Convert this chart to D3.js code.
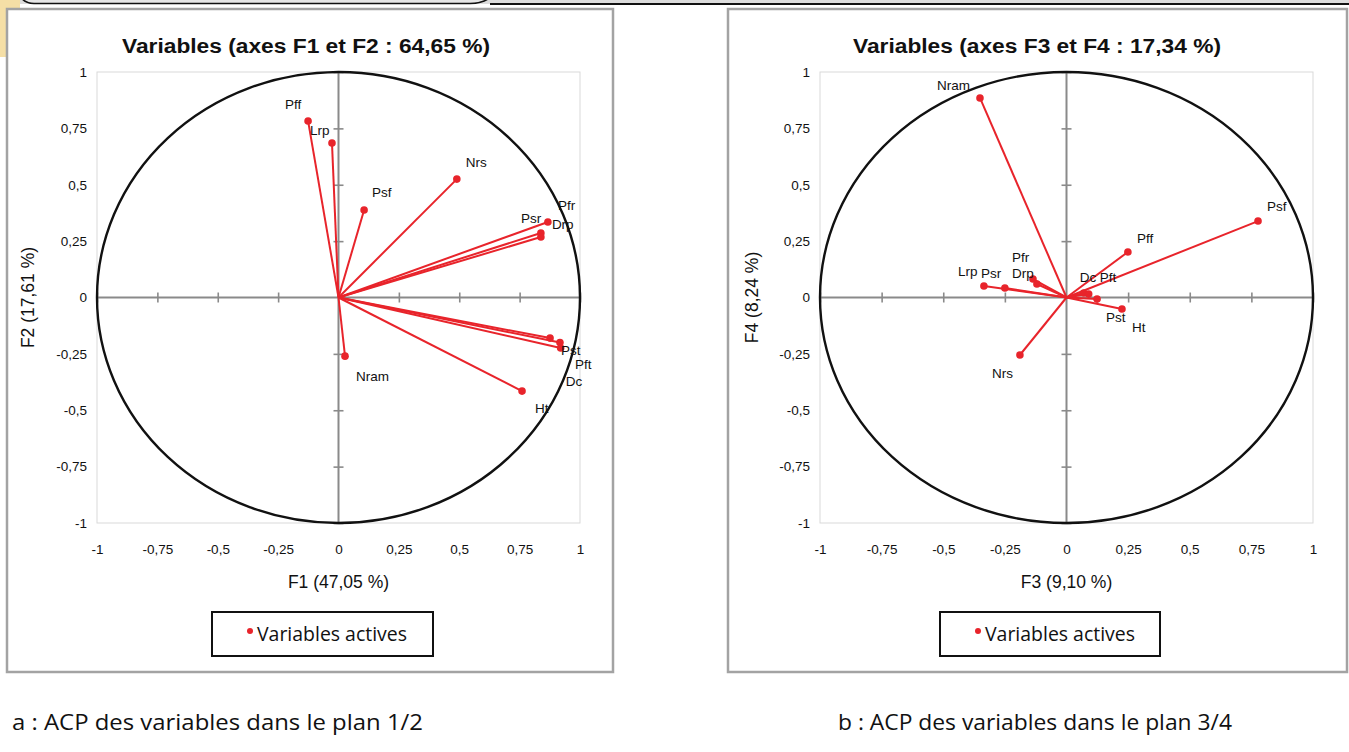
<!DOCTYPE html>
<html>
<head>
<meta charset="utf-8">
<script src="https://cdn.jsdelivr.net/npm/d3@7"></script>
<style>
  html, body { margin: 0; padding: 0; background: #ffffff; }
  svg { display: block; }
</style>
</head>
<body>
<svg id="fig" width="1349" height="752"></svg>
<script>
// Correlation circle coordinates of the active variables on the first four factors
const variables = ["Pff", "Lrp", "Psf", "Nrs", "Pfr", "Psr", "Drp", "Pst", "Dc", "Pft", "Ht", "Nram"];
const f1 = [-0.126, -0.027, 0.106, 0.490, 0.867, 0.838, 0.838, 0.876, 0.920, 0.917, 0.760, 0.027];
const f2 = [0.783, 0.685, 0.388, 0.525, 0.335, 0.286, 0.268, -0.180, -0.224, -0.200, -0.415, -0.260];
const f3 = [0.249, -0.335, 0.777, -0.189, -0.136, -0.250, -0.120, 0.124, 0.070, 0.090, 0.225, -0.351];
const f4 = [0.202, 0.051, 0.339, -0.255, 0.082, 0.042, 0.060, -0.007, 0.020, 0.015, -0.051, 0.885];

const tickValues = [-1, -0.75, -0.5, -0.25, 0, 0.25, 0.5, 0.75, 1];
const titles = ["Variables (axes F1 et F2 : 64,65 %)", "Variables (axes F3 et F4 : 17,34 %)"];
const xTitles = ["F1 (47,05 %)", "F3 (9,10 %)"];
const yTitles = ["F2 (17,61 %)", "F4 (8,24 %)"];
const captions = ["a : ACP des variables dans le plan 1/2", "b : ACP des variables dans le plan 3/4"];
const legendLabel = "Variables actives";

// Label placement nudges (pixels from the marker) to keep crowded labels readable
const nudgeA = {
  Pff: [-23, -12], Lrp: [-22, -8], Psf: [8, -13], Nrs: [9, -12], Pfr: [10, -12], Psr: [-20, -10],
  Drp: [11, -8], Pst: [11, 17], Dc: [5, 38], Pft: [15, 26], Ht: [13, 22], Nram: [11, 25]
};
const nudgeB = {
  Nram: [-43, -8], Psf: [9, -10], Pff: [9, -9], Lrp: [-26, -10], Psr: [-24, -10], Pfr: [-21, -17],
  Drp: [-25, -6], Dc: [-4, -11], Pft: [11, -12], Pst: [9, 23], Ht: [10, 23], Nrs: [-28, 23]
};

const locale = d3.formatLocale({ decimal: ",", thousands: " ", grouping: [3], currency: ["", " €"], minus: "-" });
const fmt = locale.format("~g");

const RED = "#e8242b";
const FONT = "Liberation Sans, Arial, sans-serif";
const svg = d3.select("#fig");

// Header remnants at the top of the page
svg.append("rect").attr("x", 0).attr("y", 0).attr("width", 1349).attr("height", 4).attr("fill", "#dcdcdc");
svg.append("path")
  .attr("d", "M20,-6 Q22,3 34,3.5 L470,3.5 Q488,3 492,-6")
  .attr("fill", "#e6e6e6").attr("stroke", "#111").attr("stroke-width", 1.6);
svg.append("line").attr("x1", 490).attr("x2", 1349).attr("y1", 4).attr("y2", 4)
  .attr("stroke", "#111").attr("stroke-width", 2);
svg.append("path")
  .attr("d", "M0,0 L20,0 L20,45 Q20,57 8,57 L0,57 Z")
  .attr("fill", "#f5dfa6");

const panels = [
  { frame: [7, 9, 606, 663], xs: [97, 580], ys: [72, 523], xv: f1, yv: f2, nudge: nudgeA,
    title: titles[0], titleX: 306, xTitle: xTitles[0], yTitle: yTitles[0], yTitleX: 34,
    legend: [212, 612, 221, 44], caption: captions[0], capX: 12, capW: 411 },
  { frame: [728, 9, 619, 663], xs: [820, 1313], ys: [72, 523], xv: f3, yv: f4, nudge: nudgeB,
    title: titles[1], titleX: 1037, xTitle: xTitles[1], yTitle: yTitles[1], yTitleX: 758,
    legend: [940, 612, 220, 44], caption: captions[1], capX: 838, capW: 394 }
];

panels.forEach(p => {
  const g = svg.append("g");
  const [fx, fy, fw, fh] = p.frame;
  g.append("rect").attr("x", fx).attr("y", fy).attr("width", fw).attr("height", fh)
    .attr("fill", "#fff").attr("stroke", "#a3a3a3").attr("stroke-width", 2.5);

  const x = d3.scaleLinear().domain([-1, 1]).range(p.xs);
  const y = d3.scaleLinear().domain([-1, 1]).range([p.ys[1], p.ys[0]]);

  // plot area border
  g.append("rect").attr("x", p.xs[0]).attr("y", p.ys[0])
    .attr("width", p.xs[1] - p.xs[0]).attr("height", p.ys[1] - p.ys[0])
    .attr("fill", "none").attr("stroke", "#d9d9d9").attr("stroke-width", 1);

  // tick labels along the plot edges
  const yLab = g.append("g").attr("transform", `translate(${p.xs[0] - 4},0)`)
    .call(d3.axisLeft(y).tickValues(tickValues).tickFormat(fmt).tickSize(0).tickPadding(6));
  const xLab = g.append("g").attr("transform", `translate(0,${p.ys[1] + 15})`)
    .call(d3.axisBottom(x).tickValues(tickValues).tickFormat(fmt).tickSize(0).tickPadding(6));
  [yLab, xLab].forEach(a => {
    a.select(".domain").remove();
    a.selectAll("text").attr("font-family", FONT).attr("font-size", 13.5).attr("fill", "#111");
  });

  // axes through the origin with crossing tick marks
  const cx = x(0), cy = y(0);
  const gridTicks = tickValues.filter(v => v !== 0);
  [d3.axisLeft(y), d3.axisRight(y)].forEach(ax => {
    const a = g.append("g").attr("transform", `translate(${cx},0)`)
      .call(ax.tickValues(gridTicks).tickSize(5).tickFormat(""));
    a.select(".domain").remove();
    a.selectAll("line").attr("stroke", "#8a8a8a").attr("stroke-width", 1.6);
  });
  [d3.axisTop(x), d3.axisBottom(x)].forEach(ax => {
    const a = g.append("g").attr("transform", `translate(0,${cy})`)
      .call(ax.tickValues(gridTicks).tickSize(5).tickFormat(""));
    a.select(".domain").remove();
    a.selectAll("line").attr("stroke", "#8a8a8a").attr("stroke-width", 1.6);
  });
  g.append("line").attr("x1", p.xs[0]).attr("x2", p.xs[1]).attr("y1", cy).attr("y2", cy)
    .attr("stroke", "#8a8a8a").attr("stroke-width", 2);
  g.append("line").attr("x1", cx).attr("x2", cx).attr("y1", p.ys[0]).attr("y2", p.ys[1])
    .attr("stroke", "#8a8a8a").attr("stroke-width", 2);

  // unit correlation circle
  g.append("ellipse").attr("cx", cx).attr("cy", cy)
    .attr("rx", x(1) - cx).attr("ry", cy - y(1))
    .attr("fill", "none").attr("stroke", "#111").attr("stroke-width", 2.4);

  const pts = variables.map((name, i) => ({ name, vx: p.xv[i], vy: p.yv[i] }));

  g.selectAll("line.vec").data(pts).join("line").attr("class", "vec")
    .attr("x1", cx).attr("y1", cy)
    .attr("x2", d => x(d.vx)).attr("y2", d => y(d.vy))
    .attr("stroke", RED).attr("stroke-width", 2);
  g.selectAll("circle.pt").data(pts).join("circle").attr("class", "pt")
    .attr("cx", d => x(d.vx)).attr("cy", d => y(d.vy)).attr("r", 3.8)
    .attr("fill", RED);
  g.selectAll("text.lbl").data(pts).join("text").attr("class", "lbl")
    .attr("x", d => x(d.vx) + p.nudge[d.name][0])
    .attr("y", d => y(d.vy) + p.nudge[d.name][1])
    .attr("font-family", FONT).attr("font-size", 13.5)
    .attr("fill", "#111").text(d => d.name);

  // titles
  g.append("text").attr("x", p.titleX).attr("y", 53).attr("text-anchor", "middle")
    .attr("font-family", FONT).attr("font-weight", "bold")
    .attr("font-size", 20).attr("textLength", 368).attr("lengthAdjust", "spacingAndGlyphs")
    .attr("fill", "#111").text(p.title);
  g.append("text").attr("x", cx).attr("y", 588).attr("text-anchor", "middle")
    .attr("font-family", FONT).attr("font-size", 17.5)
    .attr("fill", "#111").text(p.xTitle);
  g.append("text").attr("transform", `translate(${p.yTitleX},${cy}) rotate(-90)`)
    .attr("text-anchor", "middle")
    .attr("font-family", FONT).attr("font-size", 17.5)
    .attr("fill", "#111").text(p.yTitle);

  // legend
  const [lx, ly, lw, lh] = p.legend;
  g.append("rect").attr("x", lx).attr("y", ly).attr("width", lw).attr("height", lh)
    .attr("fill", "#fff").attr("stroke", "#111").attr("stroke-width", 2);
  g.append("circle").attr("cx", lx + 38).attr("cy", ly + 19).attr("r", 3).attr("fill", RED);
  g.append("text").attr("x", lx + 45).attr("y", ly + 29)
    .attr("font-family", "Liberation Sans Narrow, Open Sans, sans-serif").attr("font-size", 20)
    .attr("textLength", 150).attr("lengthAdjust", "spacingAndGlyphs")
    .attr("fill", "#111").text(legendLabel);

  // caption under the panel
  svg.append("text").attr("x", p.capX).attr("y", 730)
    .attr("font-family", "Liberation Sans Narrow, Open Sans, sans-serif").attr("font-size", 22)
    .attr("textLength", p.capW).attr("lengthAdjust", "spacingAndGlyphs")
    .attr("fill", "#111").text(p.caption);
});
</script>
</body>
</html>
